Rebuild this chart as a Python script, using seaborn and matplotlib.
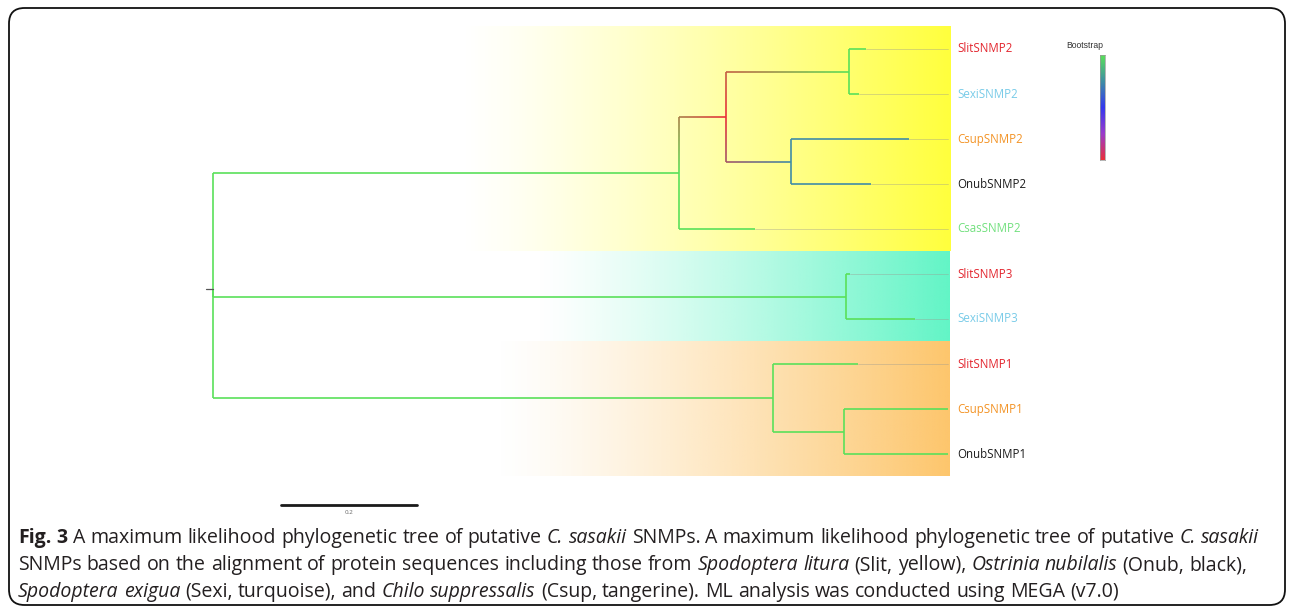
import numpy as np
import matplotlib
matplotlib.use("Agg")
import matplotlib.pyplot as plt
from matplotlib.collections import LineCollection
from matplotlib.colors import LinearSegmentedColormap, Normalize, to_rgb
from matplotlib.patches import FancyBboxPatch
from matplotlib import font_manager
import seaborn as sns
import pandas as pd

# ---------------------------------------------------------------- data
node_names = ["root", "n1", "n2", "n3", "n4", "n5", "n6", "n7",
              "SlitSNMP2", "SexiSNMP2", "CsupSNMP2", "OnubSNMP2", "CsasSNMP2",
              "SlitSNMP3", "SexiSNMP3",
              "SlitSNMP1", "CsupSNMP1", "OnubSNMP1"]
node_parents = [None, "root", "n1", "n2", "n2", "root", "root", "n6",
                "n3", "n3", "n4", "n4", "n1",
                "n5", "n5",
                "n6", "n7", "n7"]
branch_lengths = [0.0, 0.685, 0.069, 0.181, 0.096, 0.931, 0.824, 0.104,
                  0.026, 0.015, 0.174, 0.118, 0.112,
                  0.006, 0.101,
                  0.124, 0.153, 0.153]
# bootstrap support of internal nodes
bootstrap_nodes = ["root", "n1", "n2", "n3", "n4", "n5", "n6", "n7"]
bootstrap_values = [100, 100, 38, 100, 84, 100, 100, 100]

leaf_order = ["SlitSNMP2", "SexiSNMP2", "CsupSNMP2", "OnubSNMP2", "CsasSNMP2",
              "SlitSNMP3", "SexiSNMP3", "SlitSNMP1", "CsupSNMP1", "OnubSNMP1"]

species_codes = ["Slit", "Sexi", "Csup", "Onub", "Csas"]
species_colors = ["#e3262f", "#78cbe8", "#f39325", "#1c1c1c", "#72e07e"]

# highlighted clades
clade_first = ["SlitSNMP2", "SlitSNMP3", "SlitSNMP1"]
clade_last = ["CsasSNMP2", "SexiSNMP3", "OnubSNMP1"]
clade_colors = ["#ffff3c", "#62f5c6", "#fdc66c"]
clade_start = [0.363, 0.474, 0.415]

scale_length = 0.2

# ---------------------------------------------------------------- layout
W, H = 1293, 613
sns.set_theme(style="white")
plt.rcParams["font.family"] = ["Open Sans", "DejaVu Sans"]

fig = plt.figure(figsize=(W / 100, H / 100), dpi=100)
fig.patch.set_facecolor("white")

# tree axes spans the whole figure: x = branch length, y = leaf index
X_ORIGIN, X_SCALE = 213.0, 680.0
Y_ORIGIN, Y_STEP = 49.0, 45.0
ax = fig.add_axes([0, 0, 1, 1])
ax.set_xlim(-X_ORIGIN / X_SCALE, (W - X_ORIGIN) / X_SCALE)
ax.set_ylim((H - Y_ORIGIN) / Y_STEP, -Y_ORIGIN / Y_STEP)
ax.axis("off")
ax.set_facecolor("none")

tree = pd.DataFrame({"name": node_names, "parent": node_parents,
                     "length": branch_lengths}).set_index("name")
children = {n: [] for n in node_names}
for n, p in zip(node_names, node_parents):
    if p is not None:
        children[p].append(n)

# depth (x) of each node
depth = {}
for n in node_names:
    d, cur = 0.0, n
    while cur is not None:
        d += tree.loc[cur, "length"]
        cur = tree.loc[cur, "parent"]
    depth[n] = d

# vertical position: leaves by order, internal nodes at mean of children
ypos = {leaf: i for i, leaf in enumerate(leaf_order)}


def get_y(n):
    if n not in ypos:
        ypos[n] = float(np.mean([get_y(c) for c in children[n]]))
    return ypos[n]


get_y("root")

# colours by bootstrap
boot_cmap = LinearSegmentedColormap.from_list(
    "bootstrap", ["#ea2f3a", "#9a3ccc", "#3438ee", "#3f8fa4", "#5ae05a"])
boot_norm = Normalize(vmin=min(bootstrap_values), vmax=max(bootstrap_values))
boot = dict(zip(bootstrap_nodes, bootstrap_values))


def node_color(n):
    if n in boot:
        return np.array(boot_cmap(boot_norm(boot[n]))[:3])
    return node_color(tree.loc[n, "parent"])


# ---------------------------------------------------------------- clade shading
right_edge = (950 - X_ORIGIN) / X_SCALE
for first, last, col, x0 in zip(clade_first, clade_last, clade_colors, clade_start):
    t = np.linspace(0, 1, 400) ** 1.25
    img = np.ones((1, 400, 4))
    img[0, :, :3] = np.array(to_rgb(col))[None, :]
    img[0, :, 3] = t
    ax.imshow(img, extent=(x0, right_edge, ypos[last] + 0.5, ypos[first] - 0.5),
              aspect="auto", interpolation="bilinear", zorder=0)

# ---------------------------------------------------------------- branches
fig.canvas.draw()
to_px = ax.transData
segs, cols = [], []
for n in node_names:
    p = tree.loc[n, "parent"]
    if p is None:
        continue
    c0 = node_color(p)
    c1 = node_color(n)
    pts = np.array([[depth[p], ypos[p]], [depth[p], ypos[n]], [depth[n], ypos[n]]])
    disp = to_px.transform(pts)
    seg_len = np.hypot(*np.diff(disp, axis=0).T)
    total = seg_len.sum()
    # sample the path finely so the colour can run from parent to child
    samples = []
    for k in range(2):
        m = max(int(seg_len[k] / 2), 1)
        for j in range(m + 1):
            f = j / m
            samples.append(pts[k] + f * (pts[k + 1] - pts[k]))
    samples = np.array(samples)
    sd = to_px.transform(samples)
    cum = np.concatenate([[0], np.cumsum(np.hypot(*np.diff(sd, axis=0).T))])
    frac = cum / total if total > 0 else cum
    for j in range(len(samples) - 1):
        f = 0.5 * (frac[j] + frac[j + 1])
        segs.append([samples[j], samples[j + 1]])
        cols.append(tuple(c0 * (1 - f) + c1 * f))

ax.add_collection(LineCollection(segs, colors=cols, linewidths=1.2,
                                 capstyle="butt", zorder=3))

# root stub
ax.plot([-0.011, 0], [ypos["root"], ypos["root"]], color="#555555", lw=0.9, zorder=3)

# tip guide lines and labels
guide_end = (948 - X_ORIGIN) / X_SCALE
label_x = (957 - X_ORIGIN) / X_SCALE
code_color = dict(zip(species_codes, species_colors))
for leaf in leaf_order:
    y = ypos[leaf]
    if depth[leaf] < guide_end:
        ax.plot([depth[leaf], guide_end], [y, y], color="#9a9a90", lw=0.5,
                alpha=0.55, zorder=2)
    ax.text(label_x, y, leaf, color=code_color[leaf[:4]], fontsize=8.3,
            family=["Open Sans", "DejaVu Sans"], va="center", ha="left", zorder=4)

# scale bar
bar_y = (505 - Y_ORIGIN) / Y_STEP
bar = pd.DataFrame({"x": [0.1, 0.1 + scale_length], "y": [bar_y, bar_y]})
sns.lineplot(data=bar, x="x", y="y", ax=ax, color="#1a1a1a", lw=2.0,
             legend=False, zorder=3)
ax.axis("off")
ax.set_xlim(-X_ORIGIN / X_SCALE, (W - X_ORIGIN) / X_SCALE)
ax.set_ylim((H - Y_ORIGIN) / Y_STEP, -Y_ORIGIN / Y_STEP)
ax.text(0.1 + scale_length / 2, (512 - Y_ORIGIN) / Y_STEP, f"{scale_length:g}",
        fontsize=4.5, color="#666666", ha="center", va="center")

# ---------------------------------------------------------------- bootstrap legend
cax = fig.add_axes([1100 / W, 1 - 160 / H, 5 / W, 105 / H])
grad = np.linspace(0, 1, 256)[:, None]
cax.imshow(grad, cmap=boot_cmap, aspect="auto", origin="lower")
cax.set_xticks([])
cax.set_yticks([])
for s in cax.spines.values():
    s.set_color("#999999")
    s.set_linewidth(0.5)
fig.text(1085 / W, 1 - 46 / H, "Bootstrap", fontsize=6.2, color="#333333",
         ha="center", va="center", family=["Liberation Sans", "DejaVu Sans"])

# ---------------------------------------------------------------- frame
frame = FancyBboxPatch((9 / W, 1 - 605 / H), 1276 / W, 597 / H,
                       boxstyle="round,pad=0,rounding_size=0.012",
                       transform=fig.transFigure, fill=False,
                       edgecolor="#111111", lw=1.3, zorder=10,
                       mutation_aspect=W / H)
fig.add_artist(frame)

# ---------------------------------------------------------------- caption
names = {f.name for f in font_manager.fontManager.ttflist}
cap_family = "Liberation Sans Narrow" if "Liberation Sans Narrow" in names else "Open Sans"

caption_lines = [
    [("Fig. 3", "bold"),
     ("A maximum likelihood phylogenetic tree of putative", "normal"),
     ("C. sasakii", "italic"),
     ("SNMPs. A maximum likelihood phylogenetic tree of putative", "normal"),
     ("C. sasakii", "italic")],
    [("SNMPs based on the alignment of protein sequences including those from", "normal"),
     ("Spodoptera litura", "italic"), ("(Slit, yellow),", "normal"),
     ("Ostrinia nubilalis", "italic"), ("(Onub, black),", "normal")],
    [("Spodoptera exigua", "italic"), ("(Sexi, turquoise), and", "normal"),
     ("Chilo suppressalis", "italic"),
     ("(Csup, tangerine). ML analysis was conducted using MEGA (v7.0)", "normal")],
]
renderer = fig.canvas.get_renderer()


def style_kw(style, size):
    kw = dict(fontsize=size, family=[cap_family, "DejaVu Sans"], color="#231f20")
    if style == "bold":
        kw["fontweight"] = "bold"
    if style == "italic":
        kw["fontstyle"] = "italic"
    return kw


def text_width(s, kw):
    t = fig.text(0, 0, s, **kw)
    w = t.get_window_extent(renderer).width
    t.remove()
    return w


def draw_line(runs, x0, y0, size, draw=True):
    x = x0
    for txt, style in runs:
        kw = style_kw(style, size)
        space = text_width("x x", kw) - text_width("xx", kw)
        for word in txt.split(" "):
            w = text_width(word, kw)
            if draw:
                fig.text(x / W, 1 - y0 / H, word, va="baseline", ha="left", **kw)
            x += w + space
    return x - space - x0


probe = 10.0
w1 = draw_line(caption_lines[0], 18, 0, probe, draw=False)
cap_size = probe * 1242 / w1
for i, runs in enumerate(caption_lines):
    draw_line(runs, 18, 543 + 27 * i, cap_size)

fig.savefig("out.png", dpi=100, facecolor="white")
